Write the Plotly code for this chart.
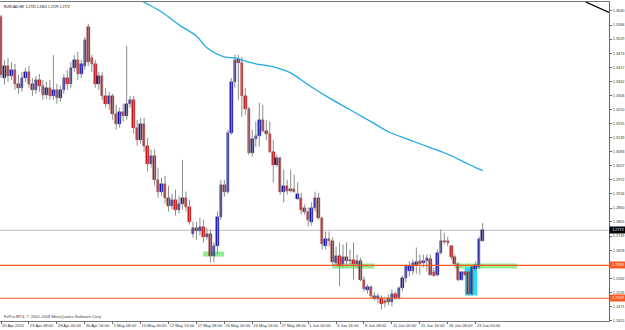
import plotly.graph_objects as go

# ---------------- data (EURCAD, H8) ----------------
opens = [1.3616, 1.3375, 1.3423, 1.3383, 1.3407, 1.3352, 1.3336, 1.3375, 1.3399, 1.3352,
         1.3328, 1.3367, 1.3344, 1.3308, 1.3336, 1.3304, 1.3328, 1.3296, 1.3328, 1.3375,
         1.3352, 1.3415, 1.3446, 1.3391, 1.3423, 1.3577, 1.3454, 1.3431, 1.3352, 1.3383,
         1.3304, 1.3273, 1.3304, 1.3233, 1.3194, 1.3241, 1.3225, 1.3273, 1.3288, 1.3178,
         1.3130, 1.3194, 1.3107, 1.3036, 1.3067, 1.2972, 1.2925, 1.2957, 1.2901, 1.2870,
         1.2893, 1.2854, 1.2878, 1.2901, 1.2866, 1.2759, 1.2783, 1.2771, 1.2787, 1.2747,
         1.2759, 1.2672, 1.2708, 1.2826, 1.2953, 1.2925, 1.3158, 1.3359, 1.3450, 1.3435,
         1.3304, 1.3253, 1.3079, 1.3134, 1.3146, 1.3209, 1.3166, 1.3154, 1.3083, 1.3032,
         1.3059, 1.2925, 1.2949, 1.2937, 1.2937, 1.2897, 1.2901, 1.2862, 1.2846, 1.2806,
         1.2862, 1.2901, 1.2822, 1.2708, 1.2739, 1.2728, 1.2641, 1.2672, 1.2637, 1.2668,
         1.2649, 1.2656, 1.2637, 1.2649, 1.2577, 1.2534, 1.2546, 1.2510, 1.2502, 1.2506,
         1.2491, 1.2506, 1.2487, 1.2518, 1.2506, 1.2542, 1.2585, 1.2609, 1.2609, 1.2633,
         1.2649, 1.2641, 1.2652, 1.2660, 1.2605, 1.2597, 1.2684, 1.2728, 1.2728, 1.2708,
         1.2668, 1.2637, 1.2577, 1.2605, 1.2605, 1.2518, 1.2617, 1.2625, 1.2731]
highs = [1.3624, 1.3446, 1.3454, 1.3438, 1.3431, 1.3387, 1.3399, 1.3415, 1.3423, 1.3375,
         1.3383, 1.3391, 1.3367, 1.3359, 1.3367, 1.3466, 1.3352, 1.3344, 1.3391, 1.3407,
         1.3438, 1.3466, 1.3478, 1.3446, 1.3537, 1.3589, 1.3466, 1.3446, 1.3399, 1.3399,
         1.3336, 1.3320, 1.3312, 1.3269, 1.3257, 1.3273, 1.3502, 1.3304, 1.3304, 1.3209,
         1.3217, 1.3217, 1.3138, 1.3091, 1.3091, 1.3020, 1.2980, 1.2988, 1.2949, 1.2917,
         1.2933, 1.2909, 1.3051, 1.2925, 1.2893, 1.2806, 1.2806, 1.2822, 1.2814, 1.2783,
         1.2775, 1.2724, 1.2846, 1.2972, 1.2972, 1.3170, 1.3375, 1.3466, 1.3466, 1.3458,
         1.3336, 1.3261, 1.3170, 1.3202, 1.3277, 1.3269, 1.3209, 1.3202, 1.3130, 1.3071,
         1.3063, 1.3012, 1.2972, 1.3012, 1.2992, 1.2961, 1.2921, 1.2874, 1.2862, 1.2882,
         1.2925, 1.2921, 1.2826, 1.2767, 1.2767, 1.2743, 1.2708, 1.2724, 1.2716, 1.2724,
         1.2696, 1.2724, 1.2676, 1.2664, 1.2589, 1.2558, 1.2554, 1.2526, 1.2522, 1.2514,
         1.2510, 1.2518, 1.2538, 1.2530, 1.2550, 1.2593, 1.2637, 1.2649, 1.2656, 1.2704,
         1.2676, 1.2676, 1.2676, 1.2676, 1.2625, 1.2696, 1.2775, 1.2763, 1.2747, 1.2712,
         1.2676, 1.2645, 1.2609, 1.2617, 1.2613, 1.2633, 1.2649, 1.2747, 1.2801]
lows = [1.3375, 1.3348, 1.3359, 1.3367, 1.3328, 1.3312, 1.3320, 1.3359, 1.3336, 1.3304,
        1.3312, 1.3320, 1.3288, 1.3292, 1.3288, 1.3288, 1.3273, 1.3281, 1.3312, 1.3328,
        1.3336, 1.3399, 1.3367, 1.3375, 1.3407, 1.3423, 1.3399, 1.3336, 1.3328, 1.3288,
        1.3257, 1.3249, 1.3209, 1.3170, 1.3178, 1.3202, 1.3209, 1.3257, 1.3154, 1.3107,
        1.3115, 1.3083, 1.3004, 1.3020, 1.2949, 1.2901, 1.2909, 1.2878, 1.2846, 1.2854,
        1.2830, 1.2838, 1.2854, 1.2846, 1.2795, 1.2743, 1.2735, 1.2751, 1.2724, 1.2735,
        1.2645, 1.2645, 1.2676, 1.2814, 1.2905, 1.2917, 1.3150, 1.3336, 1.3288, 1.3221,
        1.3229, 1.3071, 1.3063, 1.3103, 1.3103, 1.3158, 1.3130, 1.3079, 1.2961, 1.3024,
        1.2913, 1.2882, 1.2913, 1.2921, 1.2921, 1.2893, 1.2834, 1.2834, 1.2787, 1.2791,
        1.2846, 1.2814, 1.2696, 1.2696, 1.2708, 1.2629, 1.2629, 1.2550, 1.2625, 1.2629,
        1.2637, 1.2577, 1.2625, 1.2570, 1.2530, 1.2522, 1.2502, 1.2494, 1.2483, 1.2459,
        1.2467, 1.2475, 1.2471, 1.2498, 1.2498, 1.2530, 1.2566, 1.2589, 1.2597, 1.2601,
        1.2597, 1.2625, 1.2609, 1.2593, 1.2589, 1.2589, 1.2676, 1.2716, 1.2708, 1.2656,
        1.2629, 1.2570, 1.2574, 1.2589, 1.2514, 1.2514, 1.2609, 1.2617, 1.2729]
closes = [1.3387, 1.3423, 1.3383, 1.3407, 1.3352, 1.3336, 1.3375, 1.3399, 1.3352, 1.3328,
          1.3367, 1.3344, 1.3308, 1.3336, 1.3304, 1.3328, 1.3296, 1.3328, 1.3375, 1.3352,
          1.3415, 1.3446, 1.3391, 1.3431, 1.3525, 1.3438, 1.3431, 1.3352, 1.3383, 1.3304,
          1.3273, 1.3304, 1.3233, 1.3194, 1.3241, 1.3225, 1.3273, 1.3288, 1.3178, 1.3130,
          1.3194, 1.3107, 1.3036, 1.3067, 1.2972, 1.2925, 1.2957, 1.2901, 1.2870, 1.2893,
          1.2854, 1.2878, 1.2901, 1.2866, 1.2806, 1.2783, 1.2771, 1.2787, 1.2747, 1.2759,
          1.2672, 1.2708, 1.2826, 1.2953, 1.2925, 1.3158, 1.3359, 1.3446, 1.3435, 1.3304,
          1.3253, 1.3079, 1.3134, 1.3146, 1.3209, 1.3166, 1.3154, 1.3083, 1.3032, 1.3059,
          1.2925, 1.2949, 1.2929, 1.2929, 1.2925, 1.2917, 1.2854, 1.2846, 1.2814, 1.2862,
          1.2901, 1.2822, 1.2716, 1.2739, 1.2728, 1.2645, 1.2672, 1.2629, 1.2668, 1.2649,
          1.2656, 1.2637, 1.2649, 1.2577, 1.2538, 1.2546, 1.2510, 1.2502, 1.2510, 1.2479,
          1.2483, 1.2487, 1.2518, 1.2506, 1.2542, 1.2585, 1.2629, 1.2629, 1.2641, 1.2645,
          1.2637, 1.2652, 1.2664, 1.2597, 1.2593, 1.2684, 1.2728, 1.2724, 1.2720, 1.2668,
          1.2637, 1.2574, 1.2605, 1.2597, 1.2518, 1.2625, 1.2633, 1.2739, 1.2772]

x_tick_bars = [0, 8, 16, 24, 32, 40, 48, 56, 64, 72, 80, 88, 96, 104, 112, 120, 128, 136]
x_tick_labels = ["20 Apr 2010", "23 Apr 08:00", "28 Apr 00:00", "30 Apr 16:00", "5 May 08:00",
                 "10 May 00:00", "12 May 16:00", "17 May 08:00", "20 May 00:00", "24 May 16:00",
                 "27 May 08:00", "1 Jun 00:00", "3 Jun 16:00", "8 Jun 08:00", "11 Jun 00:00",
                 "15 Jun 16:00", "18 Jun 08:00", "23 Jun 00:00"]

y_tick_labels = ["1.3640", "1.3584", "1.3529", "1.3473", "1.3417", "1.3362", "1.3306", "1.3250",
                 "1.3195", "1.3139", "1.3083", "1.3027", "1.2972", "1.2916", "1.2860", "1.2805",
                 "1.2749", "1.2693", "1.2638", "1.2582", "1.2526", "1.2471", "1.2415"]

ma_bars = [34, 40, 46, 51, 56, 59, 64, 67, 71, 73, 78, 83, 88, 94, 100, 106, 111, 117, 123, 129, 133, 136, 138]
ma_values = [1.3740, 1.3683, 1.3636, 1.3585, 1.3541, 1.3494, 1.3458, 1.3454, 1.3438, 1.3431, 1.3419,
             1.3395, 1.3348, 1.3296, 1.3249, 1.3202, 1.3162, 1.3130, 1.3099, 1.3067, 1.3040, 1.3020, 1.3008]

slow_ma_bars = [167.5, 174.2]
slow_ma_values = [1.3676, 1.3634]

bid_price = 1.2772
level_prices = [1.2633, 1.2503]
level_labels = ["1.2633", "1.2503"]

green_zones = [(57.9, 63.9, 1.2668, 1.2688), (95.0, 107.0, 1.2621, 1.2641), (130.0, 147.9, 1.2621, 1.2641)]
cyan_zone = (132.9, 136.4, 1.2514, 1.2625)

title_text = "EURCAD,H8  1.2731 1.2801 1.2729 1.2772"
copyright_text = "FxPro MT4, © 2001-2008 MetaQuotes Software Corp."

# ---------------- styles ----------------
BULL = "#1414C8"
BEAR = "#DC1414"
WICK = "#8C8C8C"
ORANGE = "#FF5A1E"
FONT = "Liberation Sans"

bars = list(range(len(closes)))

fig = go.Figure()

# wicks
wx, wy = [], []
for b, h, l in zip(bars, highs, lows):
    wx += [b, b, None]
    wy += [l, h, None]
fig.add_trace(go.Scatter(x=wx, y=wy, mode="lines", line=dict(color=WICK, width=1),
                         hoverinfo="skip", showlegend=False))

# bodies
base = [min(o, c) for o, c in zip(opens, closes)]
height = [max(abs(c - o), 0.00025) for o, c in zip(opens, closes)]
colors = [BULL if c >= o else BEAR for o, c in zip(opens, closes)]
edges = ["#000060" if c >= o else "#7A0000" for o, c in zip(opens, closes)]
fig.add_trace(go.Bar(x=bars, y=height, base=base, width=0.72,
                     marker=dict(color=colors, line=dict(color=edges, width=0.4)),
                     showlegend=False))

# moving averages
fig.add_trace(go.Scatter(x=ma_bars, y=ma_values, mode="lines",
                         line=dict(color="#25A9E8", width=1.3, shape="spline"),
                         showlegend=False))
fig.add_trace(go.Scatter(x=slow_ma_bars, y=slow_ma_values, mode="lines",
                         line=dict(color="#000000", width=1.2), showlegend=False))

shapes = []
for x0, x1, y0, y1 in green_zones:
    shapes.append(dict(type="rect", xref="x", yref="y", x0=x0, x1=x1, y0=y0, y1=y1,
                       fillcolor="#90EE90", line=dict(width=0), layer="below"))
shapes.append(dict(type="rect", xref="x", yref="y", x0=cyan_zone[0], x1=cyan_zone[1],
                   y0=cyan_zone[2], y1=cyan_zone[3], fillcolor="#22E0FF",
                   line=dict(width=0), layer="below"))
shapes.append(dict(type="line", xref="paper", yref="y", x0=0, x1=1, y0=bid_price, y1=bid_price,
                   line=dict(color="#BDBDBD", width=1), layer="below"))
for p in level_prices:
    shapes.append(dict(type="line", xref="paper", yref="y", x0=0, x1=1, y0=p, y1=p,
                       line=dict(color=ORANGE, width=1.2), layer="above"))

annotations = [
    dict(xref="paper", yref="paper", x=0.003, y=1, xanchor="left", yanchor="top", yshift=-1,
         text=title_text, showarrow=False, font=dict(family=FONT, size=3.4, color="#000")),
    dict(xref="paper", yref="paper", x=0.004, y=0, xanchor="left", yanchor="bottom", yshift=0,
         text=copyright_text, showarrow=False, font=dict(family=FONT, size=4.1, color="#444")),
    dict(xref="paper", yref="y", x=1, y=bid_price, xanchor="left", yanchor="middle", xshift=0,
         text=f"{bid_price:.4f}", showarrow=False, bgcolor="#000000", borderpad=1, width=14,
         font=dict(family=FONT, size=3.8, color="#FFFFFF")),
]
for p, t in zip(level_prices, level_labels):
    annotations.append(dict(xref="paper", yref="y", x=1, y=p, xanchor="left", yanchor="middle",
                            text=t, showarrow=False, bgcolor=ORANGE, borderpad=1, width=14,
                            font=dict(family=FONT, size=3.8, color="#FFFFFF")))

fig.update_layout(
    width=625, height=330,
    margin=dict(l=0, r=16, t=2, b=9, autoexpand=False),
    paper_bgcolor="#FFFFFF", plot_bgcolor="#FFFFFF",
    showlegend=False, bargap=0,
    shapes=shapes, annotations=annotations,
    xaxis=dict(range=[-0.29, 174.2], tickmode="array", tickvals=x_tick_bars, ticktext=x_tick_labels,
               ticks="outside", ticklen=2, tickcolor="#666", ticklabelposition="outside right",
               tickangle=0, automargin=False,
               showline=True, linecolor="#777", linewidth=1, mirror=True,
               showgrid=False, zeroline=False,
               tickfont=dict(family=FONT, size=4.1, color="#333")),
    yaxis=dict(range=[1.2413, 1.36755], side="right", tickmode="array",
               tickvals=[float(t) for t in y_tick_labels], ticktext=y_tick_labels,
               ticks="outside", ticklen=2, tickcolor="#666", automargin=False,
               showline=True, linecolor="#666", linewidth=1, mirror=True,
               showgrid=False, zeroline=False,
               tickfont=dict(family=FONT, size=3.8, color="#333")),
)

fig.write_html("out.html")
